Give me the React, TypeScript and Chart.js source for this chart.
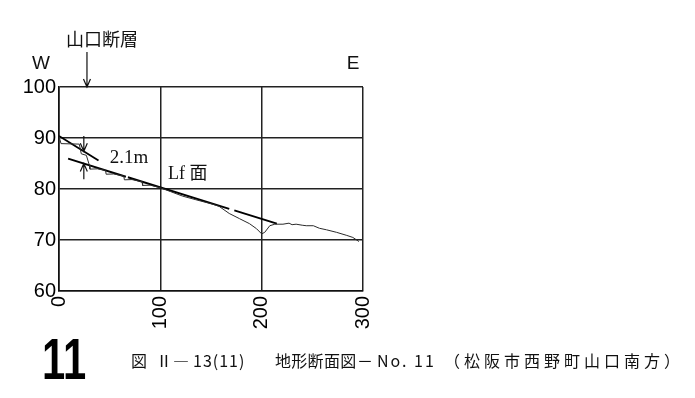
import React, { useEffect, useRef } from "react";
import { Chart, registerables } from "chart.js";

Chart.register(...registerables);

// Ground profile (distance m, elevation m)
const distance = [0, 2, 20, 22, 27, 30, 30.5, 38, 46, 46.5, 54, 64, 64.5, 72, 82, 82.5, 90, 100, 110, 122, 135, 152, 158, 168, 178, 188, 195, 200, 203, 208, 213, 221, 227, 230, 234, 240, 244, 251, 257, 264, 274, 284, 290, 296];
const elevation = [90.3, 88.9, 88.8, 86.9, 86.6, 84.64, 83.9, 83.95, 83.65, 82.9, 82.95, 82.53, 81.8, 81.85, 81.42, 80.7, 80.75, 80.25, 79.5, 78.6, 77.9, 77.0, 76.6, 75.2, 74.2, 73.2, 72.2, 71.2, 71.5, 72.8, 73.1, 73.1, 73.3, 73.0, 73.1, 72.9, 72.8, 72.8, 72.3, 72.0, 71.5, 70.9, 70.5, 69.7];

// Upthrown surface line (west of fault)
const upperX = [0, 39];
const upperY = [90.4, 85.6];

// Lf surface line (with gaps)
const lfX = [9, 66, 67, 68, 168, 170, 173, 215];
const lfY: (number | null)[] = [85.95, 82.4, null, 82.3, 76.1, null, 75.8, 73.2];

const xTicks = [0, 100, 200, 300];
const yTicks = [60, 70, 80, 90, 100];

const faultX = 27.6;
const offsetX = 24.5;
const offsetLabel = "2.1m";
const surfaceLabel = "Lf 面";
const faultLabel = "山口断層";

const zip = (xs: number[], ys: (number | null)[]) => xs.map((v, i) => ({ x: v, y: ys[i] }));

function arrowV(ctx: CanvasRenderingContext2D, x: number, y1: number, y2: number) {
  const dir = y2 > y1 ? 1 : -1;
  ctx.beginPath();
  ctx.moveTo(x, y1);
  ctx.lineTo(x, y2);
  ctx.moveTo(x - 3.5, y2 - dir * 8);
  ctx.lineTo(x, y2);
  ctx.lineTo(x + 3.5, y2 - dir * 8);
  ctx.stroke();
}

const annotPlugin = {
  id: "annot",
  afterDraw(chart: any) {
    const { ctx, scales } = chart;
    const xs = scales.x;
    const ys = scales.y;
    ctx.save();
    ctx.strokeStyle = "#111";
    ctx.fillStyle = "#111";
    ctx.lineWidth = 1.2;
    // fault arrow
    const fx = xs.getPixelForValue(faultX);
    arrowV(ctx, fx, ys.top - 35, ys.top);
    // offset double arrow
    const ax = xs.getPixelForValue(offsetX);
    arrowV(ctx, ax, ys.getPixelForValue(90.4), ys.getPixelForValue(87.4));
    arrowV(ctx, ax, ys.getPixelForValue(81.9), ys.getPixelForValue(85.0));

    // labels
    ctx.textBaseline = "alphabetic";
    ctx.textAlign = "left";
    ctx.font = '18px "Noto Sans CJK JP"';
    ctx.fillText(faultLabel, xs.left + 7, ys.top - 41);
    ctx.font = '19px "Liberation Sans", Arial, sans-serif';
    ctx.textAlign = "center";
    ctx.fillText("W", xs.left - 18, ys.top - 18);
    ctx.fillText("E", xs.right - 10, ys.top - 18);
    ctx.textAlign = "left";
    ctx.font = '19px "Liberation Serif", "Noto Sans CJK JP", serif';
    ctx.fillText(offsetLabel, xs.getPixelForValue(50), ys.getPixelForValue(85.1));
    ctx.font = '18px "Liberation Serif", "Noto Sans CJK JP", serif';
    ctx.fillText(surfaceLabel, xs.getPixelForValue(107.5), ys.getPixelForValue(82.0));
    ctx.restore();
  },
};

function App() {
  const ref = useRef<HTMLCanvasElement | null>(null);
  useEffect(() => {
    if (!ref.current) return;
    const chart = new Chart(ref.current, {
      type: "line",
      data: {
        datasets: [
          {
            label: "profile",
            data: zip(distance, elevation),
            borderColor: "#2a2a2a",
            borderWidth: 1,
            pointRadius: 0,
            tension: 0,
          },
          {
            label: "upper",
            data: zip(upperX, upperY),
            borderColor: "#000",
            borderWidth: 1.9,
            pointRadius: 0,
          },
          {
            label: "Lf",
            data: zip(lfX, lfY),
            borderColor: "#000",
            borderWidth: 1.9,
            pointRadius: 0,
            spanGaps: false,
          },
        ],
      },
      options: {
        animation: false,
        responsive: true,
        maintainAspectRatio: false,
        layout: { padding: { left: 0, right: 332, top: 87, bottom: 67 } },
        plugins: { legend: { display: false }, tooltip: { enabled: false } },
        scales: {
          x: {
            type: "linear",
            min: 0,
            max: 300,
            afterFit: (s: any) => {
              s.height = 40;
            },
            afterBuildTicks: (s: any) => {
              s.ticks = xTicks.map((v) => ({ value: v }));
            },
            grid: { color: "#222", lineWidth: 1.5, drawTicks: false },
            border: { display: true, color: "#111", width: 1.6 },
            ticks: {
              minRotation: 90,
              maxRotation: 90,
              padding: 5,
              color: "#000",
              font: { size: 20, family: '"Liberation Sans", Arial, sans-serif' },
            },
          },
          y: {
            min: 60,
            max: 100,
            afterFit: (s: any) => {
              s.width = 59;
            },
            afterBuildTicks: (s: any) => {
              s.ticks = yTicks.map((v) => ({ value: v }));
            },
            grid: { color: "#222", lineWidth: 1.5, drawTicks: false },
            border: { display: true, color: "#111", width: 1.6 },
            ticks: {
              padding: 3,
              color: "#000",
              font: { size: 20, family: '"Liberation Sans", Arial, sans-serif' },
            },
          },
        },
      },
      plugins: [annotPlugin],
    });
    return () => chart.destroy();
  }, []);

  const cap: React.CSSProperties = {
    position: "absolute",
    top: 352,
    fontSize: 16,
    lineHeight: "16px",
    fontFamily: '"Noto Sans CJK JP", sans-serif',
    color: "#111",
    whiteSpace: "nowrap",
  };

  return (
    <div style={{ position: "fixed", left: 0, top: 0, width: 695, height: 398, background: "#fff" }}>
      <canvas ref={ref} style={{ position: "absolute", left: 0, top: 0 }} />
      <div
        style={{
          position: "absolute",
          left: 42,
          top: 330,
          fontSize: 58,
          lineHeight: "58px",
          fontWeight: 700,
          fontFamily: '"Liberation Sans", Arial, sans-serif',
          color: "#000",
          transform: "scaleX(0.72)",
          transformOrigin: "left top",
        }}
      >
        11
      </div>
      <span style={{ ...cap, left: 131 }}>図</span>
      <span style={{ ...cap, left: 156 }}>Ⅱ</span>
      <span style={{ ...cap, left: 173 }}>―</span>
      <span style={{ ...cap, left: 193, letterSpacing: 1 }}>13(11)</span>
      <span style={{ ...cap, left: 275, letterSpacing: 0.3 }}>地形断面図</span>
      <span style={{ ...cap, left: 357 }}>－</span>
      <span style={{ ...cap, left: 377, letterSpacing: 2 }}>No. 11</span>
      <span style={{ ...cap, left: 444, letterSpacing: 4 }}>（松阪市西野町山口南方）</span>
    </div>
  );
}

export default App;
